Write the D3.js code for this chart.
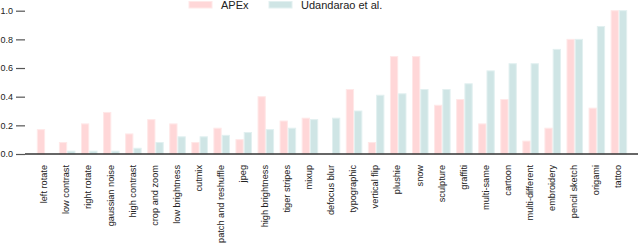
<!DOCTYPE html>
<html>
<head>
<meta charset="utf-8">
<script src="https://cdn.jsdelivr.net/npm/d3@7"></script>
<style>
  body { margin: 0; background: #fff; }
  svg { display: block; font-family: "Liberation Sans", Arial, sans-serif; }
</style>
</head>
<body>
<svg id="chart" width="640" height="245"></svg>
<script>
// categories + the two series
var categories = ["left rotate", "low contrast", "right rotate", "gaussian noise", "high contrast",
  "crop and zoom", "low brightness", "cutmix", "patch and reshuffle", "jpeg", "high brightness",
  "tiger stripes", "mixup", "defocus blur", "typographic", "vertical flip", "plushie", "snow",
  "sculpture", "graffiti", "multi-same", "cartoon", "multi-different", "embroidery",
  "pencil sketch", "origami", "tattoo"];
var apex = [0.17, 0.08, 0.21, 0.29, 0.14, 0.24, 0.21, 0.08, 0.18, 0.10, 0.40, 0.23, 0.25,
  0.0, 0.45, 0.08, 0.68, 0.68, 0.34, 0.38, 0.21, 0.38, 0.09, 0.18, 0.80, 0.32, 1.0];
var udandarao = [0.0, 0.02, 0.02, 0.02, 0.04, 0.08, 0.12, 0.12, 0.13, 0.15, 0.17, 0.18, 0.24,
  0.25, 0.30, 0.41, 0.42, 0.45, 0.45, 0.49, 0.58, 0.63, 0.63, 0.73, 0.80, 0.89, 1.0];
var seriesNames = ["APEx", "Udandarao et al."];
var yTicks = [0, 0.2, 0.4, 0.6, 0.8, 1.0];

var svg = d3.select("#chart");

var x = d3.scaleBand()
  .domain(categories)
  .range([28, 636])
  .paddingInner(0.25)
  .paddingOuter(0.4);

var xs = d3.scaleBand()
  .domain(seriesNames)
  .range([0, x.bandwidth()]);

var y = d3.scaleLinear().domain([0, 1]).range([154, 10.7]);

var fills = { "APEx": "#ffd7d8", "Udandarao et al.": "#cfe5e5" };
var strokes = { "APEx": "#ffe8e8", "Udandarao et al.": "#e2f0f0" };

// y ticks (no spine, just little dashes + labels)
var yAxis = svg.append("g").attr("transform", "translate(25,0)")
  .call(d3.axisLeft(y).tickValues(yTicks).tickFormat(d3.format(".1f")).tickSize(9).tickPadding(3));
yAxis.select(".domain").remove();
yAxis.selectAll(".tick line").attr("stroke", "#555").attr("stroke-width", 1.2);
yAxis.selectAll(".tick text").attr("font-size", 9).attr("fill", "#222")
  .attr("font-family", "Liberation Sans, Arial, sans-serif");

// bars
var rows = categories.map(function(c, i) {
  return { cat: c, vals: [{ s: "APEx", v: apex[i] }, { s: "Udandarao et al.", v: udandarao[i] }] };
});

var groups = svg.append("g").selectAll("g")
  .data(rows)
  .enter().append("g")
  .attr("transform", function(d) { return "translate(" + x(d.cat) + ",0)"; });

groups.selectAll("rect")
  .data(function(d) { return d.vals.filter(function(e) { return e.v > 0; }); })
  .enter().append("rect")
  .attr("x", function(d) { return xs(d.s) + 0.5; })
  .attr("y", function(d) { return y(d.v); })
  .attr("width", xs.bandwidth() - 1)
  .attr("height", function(d) { return y(0) - y(d.v); })
  .attr("fill", function(d) { return fills[d.s]; })
  .attr("stroke", function(d) { return strokes[d.s]; })
  .attr("stroke-width", 1);

// x axis: baseline + rotated labels
var xAxis = svg.append("g").attr("transform", "translate(0,154)")
  .call(d3.axisBottom(x).tickSize(0).tickPadding(0));
xAxis.select(".domain").attr("d", "M25,0H638").attr("stroke", "#333").attr("stroke-width", 1.5);
xAxis.selectAll(".tick text")
  .attr("font-size", 9.2)
  .attr("fill", "#222")
  .attr("font-family", "Liberation Sans, Arial, sans-serif")
  .attr("text-anchor", "end")
  .attr("dy", "0.35em")
  .attr("transform", "translate(-1,11) rotate(-90)")
  .attr("x", 0).attr("y", 0);

// legend
var legend = svg.append("g");
var legX = [189, 269];
seriesNames.forEach(function(s, i) {
  legend.append("rect")
    .attr("x", legX[i]).attr("y", 1.5)
    .attr("width", 23).attr("height", 6.5)
    .attr("fill", fills[s]).attr("stroke", strokes[s]);
  legend.append("text")
    .attr("x", legX[i] + 32).attr("y", 5)
    .attr("dy", "0.35em")
    .attr("font-size", 11)
    .attr("fill", "#222")
    .text(s);
});
</script>
</body>
</html>
